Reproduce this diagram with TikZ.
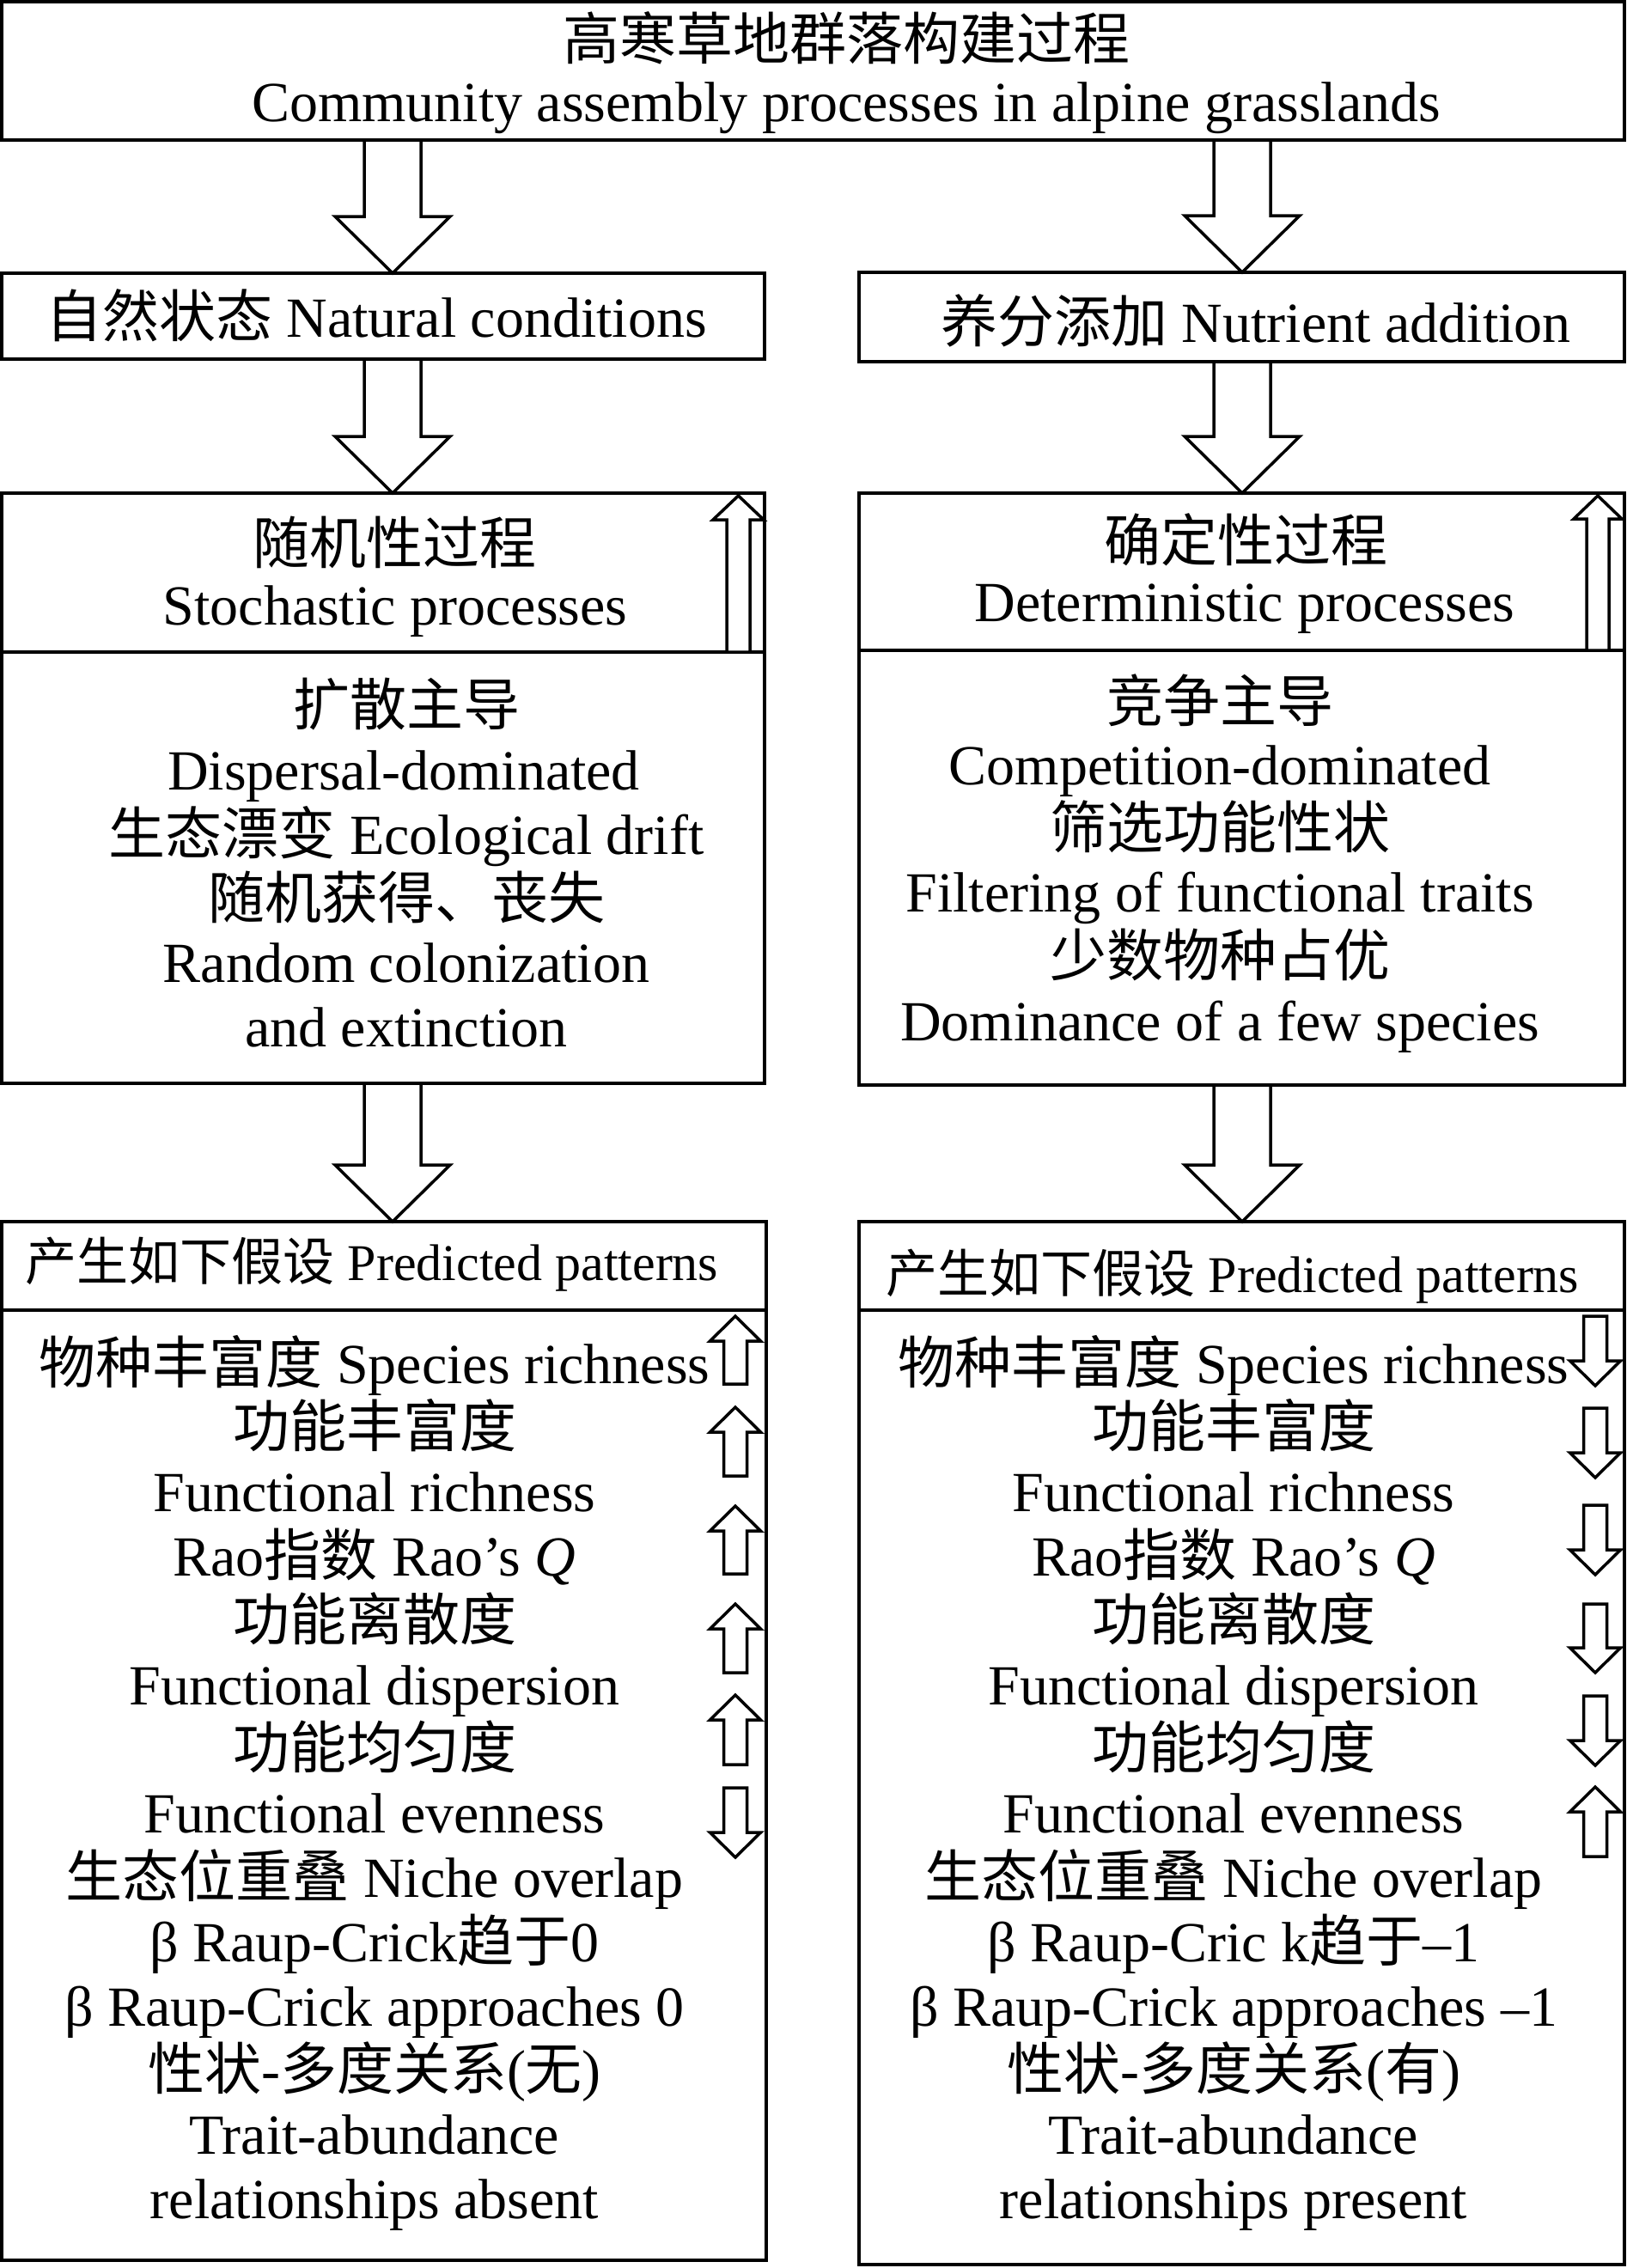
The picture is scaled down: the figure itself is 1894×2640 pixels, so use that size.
\documentclass[tikz,border=0pt]{standalone}
\usepackage{fontspec}
\setmainfont{Liberation Serif}
\newfontfamily\cjk{Noto Sans CJK SC}
\newcommand\zhs[1]{{\cjk #1}}
\usetikzlibrary{calc}
\tikzset{
  box/.style={draw, line width=4pt, inner sep=0pt, outer sep=0pt},
  divline/.style={line width=4pt},
  txt/.style={anchor=base, inner sep=0pt, font=\fontsize{66}{75}\selectfont},
  hdr/.style={anchor=base, inner sep=0pt, font=\fontsize{60}{70}\selectfont},
  hollow/.style={draw, line width=3.5pt, fill=white, line join=miter},
}
% #1 start, #2 tip, #3 shaft half width, #4 head half width, #5 head length
\newcommand\hollowarrow[5]{%
  \draw[hollow] ($(#1)+(-#3,0)$) -- ($(#2)!#5pt!(#1)+(-#3,0)$) -- ($(#2)!#5pt!(#1)+(-#4,0)$)
    -- (#2) -- ($(#2)!#5pt!(#1)+(#4,0)$) -- ($(#2)!#5pt!(#1)+(#3,0)$) -- ($(#1)+(#3,0)$) -- cycle;}
\begin{document}
\begin{tikzpicture}[x=1pt,y=-1pt]
\useasboundingbox (0,0) rectangle (1894,2640);

% boxes
\node[box, anchor=north west, minimum width=1889pt, minimum height=161pt] (top) at (2,2) {};
\node[box, anchor=north west, minimum width=888pt, minimum height=100pt] (nat) at (2,318) {};
\node[box, anchor=north west, minimum width=891pt, minimum height=104pt] (nut) at (1000,317) {};
\node[box, anchor=north west, minimum width=888pt, minimum height=687pt] (stoch) at (2,574) {};
\node[box, anchor=north west, minimum width=891pt, minimum height=689pt] (det) at (1000,574) {};
\node[box, anchor=north west, minimum width=890pt, minimum height=1209pt] (predL) at (2,1422) {};
\node[box, anchor=north west, minimum width=891pt, minimum height=1214pt] (predR) at (1000,1422) {};

\coordinate (yS) at (0,759);
\coordinate (yD) at (0,757);
\coordinate (yP) at (0,1525);
\draw[divline] (stoch.west |- yS) -- (stoch.east |- yS);
\draw[divline] (det.west |- yD) -- (det.east |- yD);
\draw[divline] (predL.west |- yP) -- (predL.east |- yP);
\draw[divline] (predR.west |- yP) -- (predR.east |- yP);

% big arrows
\coordinate (xL) at (457,0);
\coordinate (xR) at (1446,0);
\hollowarrow{xL |- top.south}{xL |- nat.north}{33}{67}{66}
\hollowarrow{xR |- top.south}{xR |- nut.north}{33}{67}{66}
\hollowarrow{xL |- nat.south}{xL |- stoch.north}{33}{67}{66}
\hollowarrow{xR |- nut.south}{xR |- det.north}{33}{67}{66}
\hollowarrow{xL |- stoch.south}{xL |- predL.north}{33}{67}{66}
\hollowarrow{xR |- det.south}{xR |- predR.north}{33}{67}{66}

% small arrows in process boxes
\hollowarrow{859.5,759}{859.5,577}{13.5}{29.5}{28}
\hollowarrow{1860,757}{1860,577}{13}{28}{27}

% small arrows in predicted boxes (left)
\hollowarrow{856,1611}{856,1532}{13.5}{29.5}{29}
\hollowarrow{856,1718}{856,1638}{13.5}{29.5}{29}
\hollowarrow{856,1832}{856,1753}{13.5}{29.5}{29}
\hollowarrow{856,1947}{856,1867}{13.5}{29.5}{29}
\hollowarrow{856,2054}{856,1973}{13.5}{29.5}{29}
\hollowarrow{856,2081}{856,2162}{13.5}{29.5}{29}
% (right)
\hollowarrow{1857,1532}{1857,1613}{13.5}{29.5}{29}
\hollowarrow{1857,1639}{1857,1720}{13.5}{29.5}{29}
\hollowarrow{1857,1752}{1857,1833}{13.5}{29.5}{29}
\hollowarrow{1857,1867}{1857,1947}{13.5}{29.5}{29}
\hollowarrow{1857,1974}{1857,2055}{13.5}{29.5}{29}
\hollowarrow{1857,2161}{1857,2080}{13.5}{29.5}{29}

% texts
\node[txt] (t1) at (985,69) {\zhs{高寒草地群落构建过程}};
\node[txt] (t2) at (985,141) {Community assembly processes in alpine grasslands};
\node[txt] (n1) at (438,392) {\zhs{自然状态} Natural conditions};
\node[txt] (u1) at (1462,398) {\zhs{养分添加} Nutrient addition};

\node[txt] (s1) at (459,656) {\zhs{随机性过程}};
\node[txt] (s2) at (460,727) {Stochastic processes};
\node[txt] (s3) at (473,844) {\zhs{扩散主导}};
\node[txt] (s4) at (470,919) {Dispersal-dominated};
\node[txt] (s5) at (473,994) {\zhs{生态漂变} Ecological drift};
\node[txt] (s6) at (473,1069) {\zhs{随机获得、丧失}};
\node[txt] (s7) at (473,1143) {Random colonization};
\node[txt] (s8) at (473,1218) {and extinction};

\node[txt] (d1) at (1450,653) {\zhs{确定性过程}};
\node[txt] (d2) at (1449,723) {Deterministic processes};
\node[txt] (d3) at (1420,840) {\zhs{竞争主导}};
\node[txt] (d4) at (1420,913) {Competition-dominated};
\node[txt] (d5) at (1420,987) {\zhs{筛选功能性状}};
\node[txt] (d6) at (1420,1061) {Filtering of functional traits};
\node[txt] (d7) at (1420,1136) {\zhs{少数物种占优}};
\node[txt] (d8) at (1420,1211) {Dominance of a few species};

\node[hdr] (ph1) at (433,1490) {\zhs{产生如下假设} Predicted patterns};
\node[hdr] (ph2) at (1435,1504) {\zhs{产生如下假设} Predicted patterns};

\foreach \i/\tl/\tr in {
  0/{\zhs{物种丰富度} Species richness}/{\zhs{物种丰富度} Species richness},
  1/{\zhs{功能丰富度}}/{\zhs{功能丰富度}},
  2/{Functional richness}/{Functional richness},
  3/{Rao\zhs{指数} Rao’s \textit{Q}}/{Rao\zhs{指数} Rao’s \textit{Q}},
  4/{\zhs{功能离散度}}/{\zhs{功能离散度}},
  5/{Functional dispersion}/{Functional dispersion},
  6/{\zhs{功能均匀度}}/{\zhs{功能均匀度}},
  7/{Functional evenness}/{Functional evenness},
  8/{\zhs{生态位重叠} Niche overlap}/{\zhs{生态位重叠} Niche overlap},
  9/{β Raup-Crick\zhs{趋于}0}/{β Raup-Cric k\zhs{趋于}–1},
  10/{β Raup-Crick approaches 0}/{β Raup-Crick approaches –1},
  11/{\zhs{性状}-\zhs{多度关系}(\zhs{无})}/{\zhs{性状}-\zhs{多度关系}(\zhs{有})},
  12/{Trait-abundance}/{Trait-abundance},
  13/{relationships absent}/{relationships present}}{
  \node[txt] (L\i) at (436,1610+74.8*\i) {\tl};
  \node[txt] (R\i) at (1436,1610+74.8*\i) {\tr};
}
\end{tikzpicture}
\end{document}
